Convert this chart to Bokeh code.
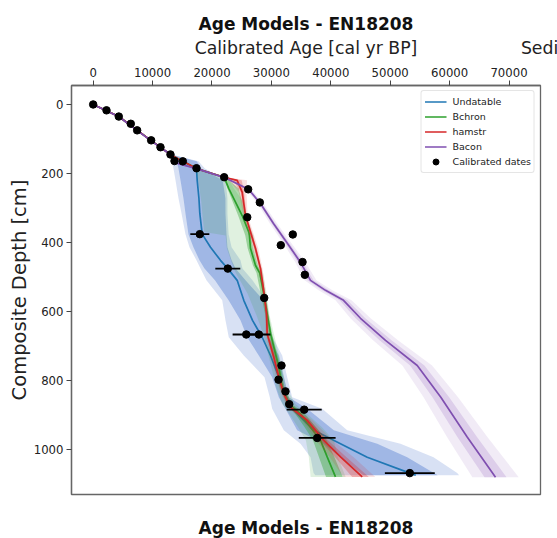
from bokeh.plotting import figure
from bokeh.models import Range1d, FixedTicker, Legend, LegendItem, Title, Label
from bokeh.embed import file_html
from bokeh.resources import INLINE

# ---------------- data (ages in cal yr BP, depths in cm) ----------------
# Undatable (blue)
und_depth = [0, 35, 104, 145, 165, 186, 220, 272, 316, 376, 414, 452, 476, 510, 568, 626, 675, 728, 791, 849, 882, 945, 984, 1023, 1069, 1075]
und_age = [0, 4300, 9700, 13000, 15090, 17390, 17510, 17800, 17950, 18350, 19750, 21430, 22660, 24240, 25350, 26820, 28450, 29850, 31250, 32540, 33500, 37140, 41630, 46130, 53300, 54300]
und_in_lo = [0, 4250, 9620, 12920, 14050, 14360, 14700, 15200, 15540, 16040, 16880, 17900, 18740, 20500, 22800, 24800, 25930, 27880, 30130, 31250, 32370, 34340, 38780, 41630, 45000, 45500]
und_in_hi = [0, 4350, 9780, 13080, 17420, 18200, 21800, 22260, 22270, 22440, 22600, 23300, 23960, 25640, 28680, 29290, 29560, 31250, 32090, 32930, 36030, 40500, 47810, 52860, 57340, 58000]
und_out_lo = [0, 4200, 9550, 12850, 13300, 13520, 13860, 14360, 14870, 15540, 16210, 17390, 18070, 19070, 21720, 22270, 22830, 25350, 28840, 29730, 30130, 32090, 34900, 36580, 37100, 37400]
und_out_hi = [0, 4400, 9850, 13150, 17730, 18800, 22300, 22600, 22600, 22800, 23300, 24800, 25130, 26820, 29180, 29510, 30180, 31820, 32660, 33500, 38550, 42760, 51730, 57290, 61280, 61600]

# Bchron (green)
bch_depth = [0, 35, 104, 145, 165, 186, 211, 244, 283, 322, 370, 380, 417, 467, 489, 549, 612, 664, 762, 820, 868, 897, 936, 974, 1022, 1080]
bch_age = [0, 4300, 9700, 13000, 15090, 17390, 22050, 22830, 23960, 25080, 26200, 26300, 26480, 27330, 28050, 28720, 29340, 29850, 31250, 31820, 32930, 34900, 36580, 38270, 39390, 40790]
bch_in_lo = [0, 4250, 9620, 12920, 15000, 17300, 22000, 22600, 23500, 24400, 25400, 25600, 26000, 26900, 27500, 28200, 29000, 29500, 30800, 31400, 32500, 34000, 35600, 37000, 38000, 39200]
bch_in_hi = [0, 4350, 9780, 13080, 15180, 17480, 22300, 24500, 25100, 25500, 26300, 26500, 26900, 27700, 28300, 29000, 29600, 30100, 31600, 32200, 33400, 35600, 37500, 39300, 40600, 42000]
bch_out_lo = [0, 4200, 9550, 12850, 14900, 17200, 17600, 17900, 18200, 18400, 18700, 22300, 22500, 23500, 24000, 26000, 27500, 28600, 30000, 30800, 31800, 33000, 34500, 35800, 36300, 36600]
bch_out_hi = [0, 4400, 9850, 13150, 15280, 17600, 22600, 23700, 25300, 25800, 26700, 27000, 27300, 28200, 28600, 29200, 29700, 30400, 31800, 32500, 34000, 36000, 38500, 40500, 41200, 42500]

# hamstr (red)
ham_depth = [0, 35, 104, 145, 165, 186, 211, 220, 254, 322, 370, 418, 476, 525, 559, 607, 665, 733, 791, 839, 878, 916, 974, 1022, 1080]
ham_age = [0, 4300, 9700, 13000, 15090, 17390, 22050, 24240, 25080, 25640, 26480, 27330, 28170, 28590, 28840, 29180, 29290, 30400, 31250, 32090, 33220, 36030, 38820, 41630, 45290]
ham_in_lo = [0, 4250, 9620, 12920, 15000, 17300, 21980, 23600, 24800, 25480, 26300, 27120, 28000, 28450, 28720, 29050, 29150, 30200, 31030, 31850, 32960, 35600, 38100, 40700, 43600]
ham_in_hi = [0, 4350, 9780, 13080, 15180, 17480, 22150, 25000, 25400, 25820, 26700, 27550, 28340, 28750, 28970, 29320, 29450, 30650, 31470, 32350, 33550, 36450, 39500, 42600, 46400]
ham_out_lo = [0, 4200, 9550, 12850, 14900, 17200, 21900, 22800, 24500, 25300, 26100, 26900, 27800, 28300, 28600, 28900, 29000, 30000, 30800, 31600, 32700, 35200, 37500, 39800, 42100]
ham_out_hi = [0, 4400, 9850, 13150, 15280, 17580, 22300, 25900, 25800, 26000, 26900, 27800, 28500, 28900, 29100, 29500, 29700, 30900, 31700, 32600, 33900, 36900, 40300, 43800, 47500]

# Bacon (purple)
bac_depth = [0, 35, 104, 145, 171, 186, 212, 246, 287, 345, 403, 458, 510, 539, 568, 620, 684, 757, 849, 964, 1081]
bac_age = [0, 4260, 9650, 13010, 14190, 17390, 22100, 26140, 28160, 30350, 32710, 34900, 36580, 39110, 42140, 45000, 49210, 54550, 58520, 62960, 67730]
bac_hw_in = [30, 80, 120, 150, 150, 170, 200, 220, 250, 300, 350, 420, 500, 570, 650, 800, 1000, 1200, 1400, 1650, 1850]
bac_hw_out = [50, 150, 250, 300, 300, 350, 400, 450, 500, 600, 700, 850, 1000, 1150, 1350, 1700, 2100, 2500, 2900, 3400, 3900]

# Calibrated dates
date_age = [0, 2240, 4310, 6330, 7400, 9760, 11330, 13010, 13690, 15090, 17390, 22050, 26090, 28050, 25930, 33600, 31580, 17950, 35240, 35630, 22660, 28790, 25770, 27890, 31700, 31200, 32370, 33000, 35520, 37710, 53300]
date_depth = [0, 17, 35, 56, 75, 104, 124, 145, 164, 165, 185, 211, 246, 284, 327, 377, 408, 376, 457, 494, 476, 561, 667, 667, 757, 798, 832, 869, 885, 967, 1069]
date_err = [150, 200, 200, 200, 200, 250, 250, 250, 250, 300, 300, 300, 300, 300, 300, 300, 300, 1600, 300, 300, 2100, 300, 2300, 1950, 300, 300, 300, 300, 2950, 3100, 4200]

x_ticks = [0, 10000, 20000, 30000, 40000, 50000, 60000, 70000]
y_ticks = [0, 200, 400, 600, 800, 1000]

FONT = "DejaVu Sans"

p = figure(width=557, height=538,
           x_range=Range1d(-3650, 75300), y_range=Range1d(1131, -55),
           x_axis_location="above", output_backend="svg", toolbar_location=None,
           min_border_left=71, min_border_right=17, min_border_top=85, min_border_bottom=44)

p.title.text = "Age Models - EN18208"
p.title.align = "center"
p.title.text_font = FONT
p.title.text_font_size = "17px"
p.title.text_font_style = "bold"
p.title.text_color = "#111111"
p.title.standoff = 2

p.grid.visible = False
p.outline_line_color = "#666666"
p.outline_line_width = 1.3
p.background_fill_color = "white"
p.border_fill_color = "white"

for ax in (p.xaxis[0], p.yaxis[0]):
    ax.axis_line_color = "#666666"
    ax.axis_line_width = 1.3
    ax.major_tick_line_color = "#444444"
    ax.major_tick_out = 5
    ax.major_tick_in = 0
    ax.minor_tick_line_color = None
    ax.major_label_text_font = FONT
    ax.major_label_text_font_size = "11.7px"
    ax.major_label_text_color = "#222222"
    ax.axis_label_text_font = FONT
    ax.axis_label_text_font_style = "normal"
    ax.axis_label_text_color = "#222222"

p.xaxis.ticker = FixedTicker(ticks=x_ticks)
p.yaxis.ticker = FixedTicker(ticks=y_ticks)
p.xaxis.axis_label = "Calibrated Age [cal yr BP]"
p.xaxis.axis_label_text_font_size = "17.3px"
p.xaxis.major_label_standoff = 4
p.xaxis.axis_label_standoff = 7
p.yaxis.axis_label = "Composite Depth [cm]"
p.yaxis.axis_label_text_font_size = "19.5px"
p.yaxis.major_label_standoff = 3
p.yaxis.axis_label_standoff = 0

C_BLUE, C_GREEN, C_RED, C_PURPLE = "#1f77b4", "#2ca02c", "#d62728", "#7f4fb0"

# bands
p.harea(x1=und_out_lo, x2=und_out_hi, y=und_depth, fill_color="#3d6bc9", fill_alpha=0.2)
p.harea(x1=und_in_lo, x2=und_in_hi, y=und_depth, fill_color="#3d6bc9", fill_alpha=0.36)
l_und = p.line(und_age, und_depth, line_color=C_BLUE, line_width=1.7)

p.harea(x1=bch_out_lo, x2=bch_out_hi, y=bch_depth, fill_color=C_GREEN, fill_alpha=0.15)
p.harea(x1=bch_in_lo, x2=bch_in_hi, y=bch_depth, fill_color=C_GREEN, fill_alpha=0.38)
l_bch = p.line(bch_age, bch_depth, line_color=C_GREEN, line_width=1.7)

p.harea(x1=ham_out_lo, x2=ham_out_hi, y=ham_depth, fill_color=C_RED, fill_alpha=0.15)
p.harea(x1=ham_in_lo, x2=ham_in_hi, y=ham_depth, fill_color=C_RED, fill_alpha=0.28)
l_ham = p.line(ham_age, ham_depth, line_color=C_RED, line_width=1.7)

bac_out_lo = [a - w for a, w in zip(bac_age, bac_hw_out)]
bac_out_hi = [a + w for a, w in zip(bac_age, bac_hw_out)]
bac_in_lo = [a - w for a, w in zip(bac_age, bac_hw_in)]
bac_in_hi = [a + w for a, w in zip(bac_age, bac_hw_in)]
p.harea(x1=bac_out_lo, x2=bac_out_hi, y=bac_depth, fill_color="#9467bd", fill_alpha=0.13)
p.harea(x1=bac_in_lo, x2=bac_in_hi, y=bac_depth, fill_color="#9467bd", fill_alpha=0.22)
l_bac = p.line(bac_age, bac_depth, line_color=C_PURPLE, line_width=1.7)

# dates with error bars
err_lo = [a - e for a, e in zip(date_age, date_err)]
err_hi = [a + e for a, e in zip(date_age, date_err)]
p.segment(x0=err_lo, x1=err_hi, y0=date_depth, y1=date_depth, line_color="black", line_width=1.8)
s_dates = p.scatter(date_age, date_depth, size=7.5, fill_color="black", line_color="black")

legend = Legend(items=[
    LegendItem(label="Undatable", renderers=[l_und]),
    LegendItem(label="Bchron", renderers=[l_bch]),
    LegendItem(label="hamstr", renderers=[l_ham]),
    LegendItem(label="Bacon", renderers=[l_bac]),
    LegendItem(label="Calibrated dates", renderers=[s_dates]),
], location="top_right")
legend.margin = 5
legend.padding = 3
legend.spacing = 0
legend.glyph_height = 15
legend.glyph_width = 22
legend.label_height = 15
legend.label_standoff = 6
legend.label_text_font = FONT
legend.label_text_font_size = "9.5px"
legend.label_text_color = "#222222"
legend.border_line_color = "#cccccc"
legend.border_line_width = 1
legend.background_fill_alpha = 0.85
legend.border_radius = 3
p.add_layout(legend, "center")

# neighbouring panel's axis label, cropped at the right edge in the reference
# (placed in a side panel so that it is not clipped to the plot frame)
p.add_layout(Label(x=72000, y=-163, text="Sedi", text_font=FONT, text_font_size="17.3px",
                   text_baseline="middle", text_align="left", text_color="#222222"), "below")

# title of the panel below (cropped in the reference)
bottom_title = Title(text="Age Models - EN18208", align="center", text_font=FONT,
                     text_font_size="17px", text_font_style="bold", text_color="#111111",
                     standoff=2)
p.add_layout(bottom_title, "below")

open("out.html", "w").write(file_html(p, INLINE))
